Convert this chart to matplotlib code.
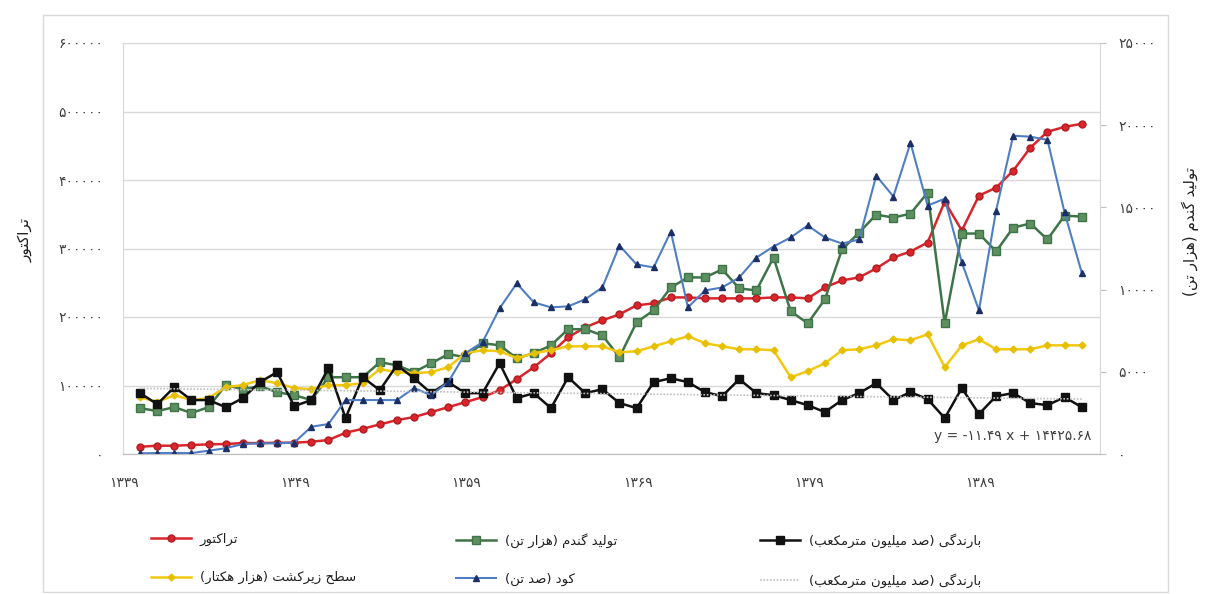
import matplotlib
matplotlib.use("Agg")
import matplotlib.pyplot as plt
import matplotlib.transforms as mtransforms
from matplotlib.ticker import FuncFormatter, FixedLocator
from matplotlib.patches import Rectangle
import numpy as np

plt.rcParams['font.family'] = ['DejaVu Sans']

# --- data ---
years = list(range(1339, 1395))

tractor = [10600, 12100, 12100, 13100, 14100, 14600, 16000, 16000, 16500, 16500,
           17900, 20400, 31000, 36800, 43200, 49500, 53900, 61200, 68400, 75700,
           83000, 93200, 109200, 126700, 147100, 170400, 184900, 195100, 203900, 217000,
           219900, 228600, 228600, 227200, 227200, 227200, 227200, 228600, 228600, 227200,
           243200, 253400, 257800, 270900, 286900, 295600, 308700, 368400, 326200, 377200,
           388800, 413600, 447100, 470400, 477600, 482000]

wheat = [2790, 2610, 2850, 2490, 2850, 4190, 3940, 4130, 3760, 3580,
         3280, 4670, 4670, 4670, 5580, 5400, 4980, 5520, 6070, 5890,
         6740, 6610, 5830, 6130, 6610, 7590, 7590, 7220, 5890, 8010,
         8740, 10130, 10740, 10740, 11230, 10070, 9950, 11950, 8680, 7950,
         9410, 12440, 13470, 14560, 14380, 14620, 15900, 7950, 13410, 13410,
         12320, 13770, 14020, 13050, 14500, 14440]

rain = [3700, 3030, 4070, 3280, 3280, 2850, 3400, 4370, 4980, 2910,
        3280, 5220, 2180, 4670, 3880, 5400, 4610, 3700, 4370, 3700,
        3700, 5520, 3400, 3700, 2790, 4670, 3700, 3940, 3100, 2790,
        4370, 4610, 4370, 3760, 3520, 4550, 3700, 3580, 3280, 2970,
        2550, 3280, 3700, 4310, 3280, 3760, 3340, 2180, 4010, 2430,
        3520, 3700, 3100, 2970, 3460, 2850]

area = [3460, 3160, 3580, 3280, 3400, 4070, 4190, 4490, 4310, 4010,
        3940, 4190, 4190, 4310, 5160, 4980, 4920, 4980, 5280, 6130,
        6310, 6250, 5830, 6130, 6310, 6550, 6550, 6550, 6190, 6250,
        6550, 6860, 7160, 6740, 6550, 6370, 6370, 6310, 4670, 5040,
        5520, 6310, 6370, 6610, 6980, 6920, 7280, 5280, 6610, 6980,
        6370, 6370, 6370, 6610, 6610, 6610]

fert = [40, 60, 60, 60, 200, 350, 610, 650, 650, 690,
        1660, 1820, 3280, 3280, 3280, 3280, 4010, 3580, 4370, 6130,
        6800, 8860, 10380, 9220, 8920, 8980, 9410, 10130, 12680, 11530,
        11350, 13530, 8920, 9950, 10130, 10740, 11950, 12620, 13170, 13900,
        13170, 12800, 13050, 16930, 15660, 18930, 15110, 15530, 11650, 8740,
        14810, 19360, 19300, 19110, 14690, 11040]

year_ticks = [1339, 1349, 1359, 1369, 1379, 1389]
left_ticks = [0, 100000, 200000, 300000, 400000, 500000, 600000]
right_ticks = [0, 5000, 10000, 15000, 20000, 25000]

lbl_tractor = "تراکتور"
lbl_wheat = "تولید گندم (هزار تن)"
lbl_rain = "بارندگی (صد میلیون مترمکعب)"
lbl_area = "سطح زیرکشت (هزار هکتار)"
lbl_fert = "کود (صد تن)"
eq_text = "y = -۱۱.۴۹ x + ۱۴۴۲۵.۶۸"

# --- minimal Persian shaping (matplotlib has no bidi/joining) ---
FORMS = {
    'ا': ('\uFE8D', '\uFE8E'), 'د': ('\uFEA9', '\uFEAA'), 'ر': ('\uFEAD', '\uFEAE'),
    'ز': ('\uFEAF', '\uFEB0'), 'و': ('\uFEED', '\uFEEE'),
    'ب': ('\uFE8F', '\uFE90', '\uFE91', '\uFE92'), 'ت': ('\uFE95', '\uFE96', '\uFE97', '\uFE98'),
    'ح': ('\uFEA1', '\uFEA2', '\uFEA3', '\uFEA4'), 'س': ('\uFEB1', '\uFEB2', '\uFEB3', '\uFEB4'),
    'ش': ('\uFEB5', '\uFEB6', '\uFEB7', '\uFEB8'), 'ص': ('\uFEB9', '\uFEBA', '\uFEBB', '\uFEBC'),
    'ط': ('\uFEC1', '\uFEC2', '\uFEC3', '\uFEC4'), 'ع': ('\uFEC9', '\uFECA', '\uFECB', '\uFECC'),
    'ل': ('\uFEDD', '\uFEDE', '\uFEDF', '\uFEE0'), 'م': ('\uFEE1', '\uFEE2', '\uFEE3', '\uFEE4'),
    'ن': ('\uFEE5', '\uFEE6', '\uFEE7', '\uFEE8'), 'ه': ('\uFEE9', '\uFEEA', '\uFEEB', '\uFEEC'),
    'ک': ('\uFB8E', '\uFB8F', '\uFB90', '\uFB91'), 'گ': ('\uFB92', '\uFB93', '\uFB94', '\uFB95'),
    'ی': ('\uFBFC', '\uFBFD', '\uFBFE', '\uFBFF'),
}


def fa(s):
    out = []
    for k, ch in enumerate(s):
        if ch not in FORMS:
            out.append(ch)
            continue
        prev = s[k - 1] if k > 0 else ''
        nxt = s[k + 1] if k + 1 < len(s) else ''
        f = FORMS[ch]
        jp = prev in FORMS and len(FORMS[prev]) == 4
        jn = len(f) == 4 and nxt in FORMS
        if jp and jn:
            out.append(f[3])
        elif jp:
            out.append(f[1])
        elif jn:
            out.append(f[2])
        else:
            out.append(f[0])
    vis = ''.join(out)[::-1]
    return vis.translate(str.maketrans('()', ')('))


def fa_digits(v, pos=None):
    return str(int(round(v))).translate(str.maketrans('0123456789', '۰۱۲۳۴۵۶۷۸۹'))


# --- figure ---
fig = plt.figure(figsize=(12.06, 5.94), dpi=100)
fig.patches.append(Rectangle((43 / 1206, 1 - 592 / 594), 1125 / 1206, 577 / 594,
                             transform=fig.transFigure, fill=False,
                             edgecolor='#D9D9D9', linewidth=1))

ax = fig.add_axes([123 / 1206, 1 - 454 / 594, 977 / 1206, 411 / 594])
ax2 = ax.twinx()

grid_c = '#D9D9D9'
txt_c = '#404040'

ax.plot(years, tractor, color='#D9252B', lw=1.8, marker='o', ms=5,
        mfc='#D9252B', mec='#B01E22', label=fa(lbl_tractor))

ax2.plot(years, wheat, color='#3F7448', lw=1.8, marker='s', ms=5.5,
         mfc='#5E8F60', mec='#3F7448', label=fa(lbl_wheat))
ax2.plot(years, area, color='#F2C811', lw=1.8, marker='D', ms=3.5,
         mfc='#E6C000', mec='#E6C000', label=fa(lbl_area))
ax2.plot(years, rain, color='#111111', lw=1.8, marker='s', ms=5.5,
         mfc='#111111', mec='#111111', label=fa(lbl_rain))
ax2.plot(years, fert, color='#4F7EC4', lw=1.5, marker='^', ms=5,
         mfc='#1C2F66', mec='#1C2F66', label=fa(lbl_fert))

# linear trend of rainfall
coef = np.polyfit(years, rain, 1)
trend = np.polyval(coef, years)
ax2.plot(years, trend, color='#BFBFBF', lw=1.2, ls=(0, (1, 1)), label=fa(lbl_rain))

ax.set_xlim(1338, 1395.07)
ax.set_ylim(0, 600000)
ax2.set_ylim(0, 25000)

ax.yaxis.set_major_locator(FixedLocator(left_ticks))
ax.yaxis.set_major_formatter(FuncFormatter(fa_digits))
ax2.yaxis.set_major_locator(FixedLocator(right_ticks))
ax2.yaxis.set_major_formatter(FuncFormatter(fa_digits))
ax.xaxis.set_major_locator(FixedLocator(year_ticks))
ax.xaxis.set_major_formatter(FuncFormatter(fa_digits))

ax.grid(axis='y', color=grid_c, lw=1)
ax.set_axisbelow(True)
ax.tick_params(axis='y', length=0, pad=14, labelsize=10, labelcolor=txt_c)
ax.tick_params(axis='x', length=0, pad=16, labelsize=10, labelcolor=txt_c)
ax2.tick_params(axis='y', length=4, width=0.8, color='#BFBFBF', pad=9,
                labelsize=10, labelcolor=txt_c)

offset = mtransforms.ScaledTranslation(-0.16, 0, fig.dpi_scale_trans)
for t in ax.get_xticklabels():
    t.set_transform(t.get_transform() + offset)

for a in (ax, ax2):
    for side in ('left', 'right', 'top'):
        a.spines[side].set_color(grid_c)
    a.spines['bottom'].set_color('#BFBFBF')

fig.text(25 / 1206, 1 - 240 / 594, fa(lbl_tractor), rotation=90,
         ha='center', va='center', fontsize=11, color='#202020')
fig.text(1190 / 1206, 1 - 232 / 594, fa(lbl_wheat), rotation=90,
         ha='center', va='center', fontsize=11, color='#202020')

ax2.text(1394.6, 650, eq_text, ha='right', va='bottom', fontsize=10, color=txt_c)

# legend: three columns of two rows, placed separately
h1, l1 = ax.get_legend_handles_labels()
h2, l2 = ax2.get_legend_handles_labels()
H = h1 + h2
L = l1 + l2
cols = [([H[0], H[2]], [L[0], L[2]], 151),
        ([H[1], H[4]], [L[1], L[4]], 456),
        ([H[3], H[5]], [L[3], L[5]], 760)]
for hs, ls_, x0 in cols:
    leg = fig.legend(hs, ls_, loc='upper left', bbox_to_anchor=(x0 / 1206, 1 - 533 / 594),
                     frameon=False, fontsize=9.5, handlelength=3.0, handletextpad=0.7,
                     labelspacing=1.9, borderpad=0, borderaxespad=0)
    for t in leg.get_texts():
        t.set_color('#202020')

fig.savefig('out.png', dpi=100)
